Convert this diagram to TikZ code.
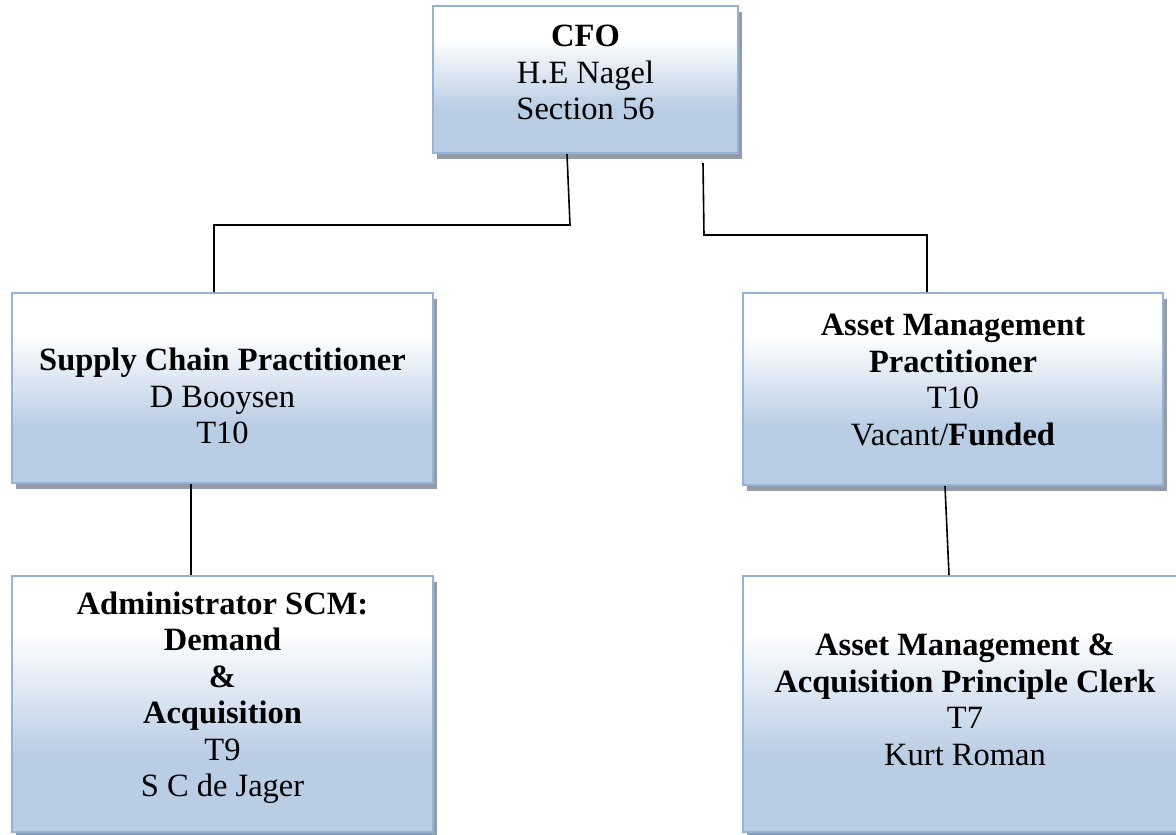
\documentclass[tikz,border=0pt]{standalone}
\usepackage{fontspec}
\setmainfont{Liberation Serif}
\usetikzlibrary{shadows,calc}

\definecolor{boxedge}{RGB}{149,179,215}
\definecolor{boxfill}{RGB}{185,205,229}
\definecolor{boxshade}{RGB}{146,156,171}

% white at the top fading to pale blue at the bottom
\pgfdeclareverticalshading{orgfade}{100bp}{%
  color(0bp)=(boxfill); color(40bp)=(boxfill);
  color(64bp)=(white); color(100bp)=(white)}

\tikzset{
  orgbox/.style={rectangle, draw=boxedge, line width=2pt, shade, shading=orgfade,
    inner sep=0pt,
    drop shadow={shadow xshift=4pt, shadow yshift=-6pt, fill=boxshade, opacity=1}},
  boxtext/.style={align=center, inner sep=0pt,
    font=\fontsize{32.5}{36.5}\selectfont},
  link/.style={draw=black, line width=1.6pt}
}

\begin{document}
\begin{tikzpicture}[x=1pt,y=-1pt]
\useasboundingbox (0,0) rectangle (1176,835);

% boxes
\node[orgbox, minimum width=305pt, minimum height=147pt] (cfo) at (585.5,79.5) {};
\node[orgbox, minimum width=421pt, minimum height=190pt] (supply) at (222.5,388) {};
\node[orgbox, minimum width=420pt, minimum height=192pt] (asset) at (953,389) {};
\node[orgbox, minimum width=421pt, minimum height=256pt] (admin) at (222.5,704) {};
\node[orgbox, minimum width=442pt, minimum height=256pt] (clerk) at (964,704) {};

% texts
\node[boxtext] (cfoT) at (585.5,72.5) {\textbf{CFO}\\H.E Nagel\\Section 56};
\node[boxtext] (supplyT) at (222.5,396) {\textbf{Supply Chain Practitioner}\\D Booysen\\T10};
\node[boxtext] (assetT) at (953,380) {\textbf{Asset Management}\\\textbf{Practitioner}\\T10\\Vacant/\textbf{Funded}};
\node[boxtext] (adminT) at (222.5,697.5) {\textbf{Administrator SCM:}\\\textbf{Demand}\\\textbf{\&}\\\textbf{Acquisition}\\T9\\S C de Jager};
\node[boxtext] (clerkT) at (965,700) {\textbf{Asset Management \&}\\\textbf{Acquisition Principle Clerk}\\T7\\Kurt Roman};

% connectors
\coordinate (l1) at (570,225);
\coordinate (l2) at (214,225);
\draw[link] ($(cfo.south west)+(135,0)$) -- (l1) -- (l2) -- (l2 |- supply.north);

\coordinate (r1) at (704,235);
\coordinate (r2) at (927,235);
\draw[link] ($(cfo.south west)+(271,9)$) -- (r1) -- (r2) -- (r2 |- asset.north);

\draw[link] ($(supply.south west)+(180,0)$) -- ($(admin.north west)+(180,0)$);
\draw[link] ($(asset.south west)+(203,0)$) -- ($(clerk.north west)+(207,0)$);
\end{tikzpicture}
\end{document}
